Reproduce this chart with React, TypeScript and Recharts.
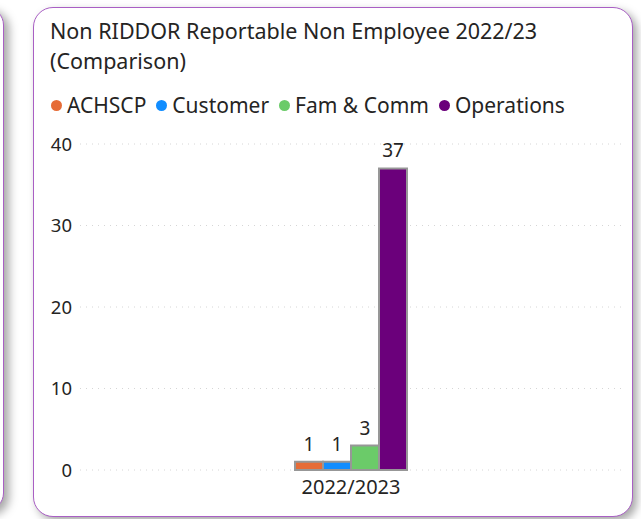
import React from "react";
import { BarChart, Bar, XAxis, YAxis, CartesianGrid, LabelList } from "recharts";

const categories = ["2022/2023"];
const seriesNames = ["ACHSCP", "Customer", "Fam & Comm", "Operations"];
const seriesColors = ["#E66C37", "#118DFF", "#6BCB69", "#6B007B"];
const achscp = [1];
const customer = [1];
const famComm = [3];
const operations = [37];
const yTicks = [0, 10, 20, 30, 40];

const seriesValues = [achscp, customer, famComm, operations];
const data = categories.map((c, i) => {
  const row: Record<string, string | number> = { name: c };
  seriesNames.forEach((s, j) => {
    row[s] = seriesValues[j][i];
  });
  return row;
});

const FONT = "'Segoe UI', 'Noto Sans', 'Open Sans', sans-serif";
const TEXT = "#252423";

export default function App() {
  return (
    <div
      style={{
        position: "fixed",
        left: 0,
        top: 0,
        width: 641,
        height: 519,
        background: "#fff",
        overflow: "hidden",
        fontFamily: FONT,
      }}
    >
      {/* neighbouring card, mostly off-screen */}
      <div
        style={{
          position: "absolute",
          left: -300,
          top: 7,
          width: 302,
          height: 502,
          border: "1.5px solid #A95FC4",
          borderRadius: 18,
          background: "#fff",
          boxShadow: "5px 4px 10px rgba(0,0,0,0.35)",
        }}
      />
      {/* main card */}
      <div
        style={{
          position: "absolute",
          left: 33,
          top: 7,
          width: 598,
          height: 508,
          border: "1.5px solid #A95FC4",
          borderRadius: 20,
          background: "#fff",
          boxShadow: "4px 4px 8px rgba(0,0,0,0.35)",
        }}
      />
      <div
        style={{
          position: "absolute",
          left: 50,
          top: 16,
          fontSize: 21.5,
          lineHeight: "30px",
          color: TEXT,
          whiteSpace: "nowrap",
        }}
      >
        Non RIDDOR Reportable Non Employee 2022/23
        <br />
        (Comparison)
      </div>
      <div
        style={{
          position: "absolute",
          left: 51,
          top: 91,
          display: "flex",
          alignItems: "center",
          fontSize: 21,
          color: TEXT,
          whiteSpace: "nowrap",
        }}
      >
        {seriesNames.map((s, i) => (
          <span
            key={s}
            style={{ display: "flex", alignItems: "center", marginRight: 10 }}
          >
            <span
              style={{
                display: "inline-block",
                width: 11,
                height: 11,
                borderRadius: "50%",
                background: seriesColors[i],
                marginRight: 5,
              }}
            />
            {s}
          </span>
        ))}
      </div>
      <div style={{ position: "absolute", left: 0, top: 0 }}>
        <BarChart
          width={641}
          height={519}
          data={data}
          margin={{ top: 144, right: 19, bottom: 19, left: 42 }}
          barGap={0}
          barSize={28}
        >
          <CartesianGrid
            vertical={false}
            stroke="#d6d6d6"
            strokeDasharray="1 5"
          />
          <XAxis
            dataKey="name"
            axisLine={false}
            tickLine={false}
            height={30}
            tick={{ fill: TEXT, fontSize: 20, fontFamily: FONT }}
            tickMargin={4}
          />
          <YAxis
            domain={[0, 40]}
            ticks={yTicks}
            axisLine={false}
            tickLine={false}
            width={38}
            tick={{ fill: TEXT, fontSize: 18.5, fontFamily: FONT }}
            tickMargin={2}
          />
          {seriesNames.map((s, i) => (
            <Bar
              key={s}
              dataKey={s}
              fill={seriesColors[i]}
              stroke="#979797"
              strokeWidth={2}
              isAnimationActive={false}
            >
              <LabelList
                dataKey={s}
                position="top"
                offset={11}
                fill={TEXT}
                fontSize={19}
                fontFamily={FONT}
              />
            </Bar>
          ))}
        </BarChart>
      </div>
    </div>
  );
}
